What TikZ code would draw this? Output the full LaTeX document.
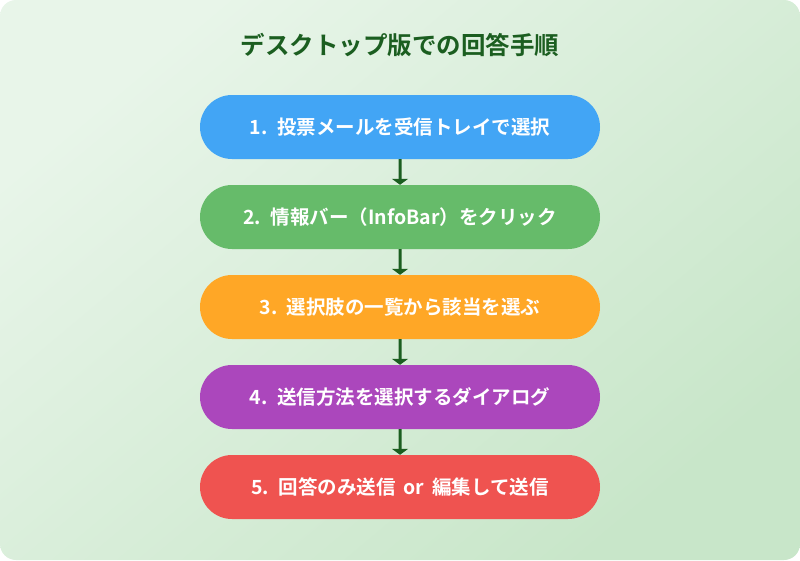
\documentclass[tikz,border=0pt]{standalone}
\usepackage{fontspec}
\setmainfont{Noto Sans CJK JP}
\newfontfamily\jpbold{Noto Sans CJK JP Bold}
\newfontfamily\jpboldw[WordSpace=1.8]{Noto Sans CJK JP Bold}
\usetikzlibrary{arrows.meta,shapes.misc}
\definecolor{bgA}{HTML}{E8F5E9}
\definecolor{bgB}{HTML}{C8E6C9}
\definecolor{titlec}{HTML}{1B5E20}
\definecolor{arrowc}{HTML}{1B5E20}
\definecolor{c1}{HTML}{42A5F5}
\definecolor{c2}{HTML}{66BB6A}
\definecolor{c3}{HTML}{FFA726}
\definecolor{c4}{HTML}{AB47BC}
\definecolor{c5}{HTML}{EF5350}
\tikzset{
  stepbox/.style={rounded rectangle, minimum width=400pt, minimum height=64pt,
    inner sep=0pt, text=white, font=\jpboldw\fontsize{19.5}{23}\selectfont},
  flow/.style={draw=arrowc, line width=3pt, -{Triangle[width=16pt,length=6pt]}},
}
\begin{document}
\begin{tikzpicture}[x=1pt,y=-1pt]
\useasboundingbox (0,0) rectangle (800,560);
\shade[top color=bgA, bottom color=bgB, shading angle=40, rounded corners=16pt] (0,0) rectangle (800,560);
\node[text=titlec, font=\jpbold\fontsize{24.5}{28}\selectfont] (title) at (400,45) {デスクトップ版での回答手順};
\node[stepbox, fill=c1] (s1) at (400,127) {1. 投票メールを受信トレイで選択};
\node[stepbox, fill=c2] (s2) at (400,217) {2. 情報バー（InfoBar）をクリック};
\node[stepbox, fill=c3] (s3) at (400,307) {3. 選択肢の一覧から該当を選ぶ};
\node[stepbox, fill=c4] (s4) at (400,397) {4. 送信方法を選択するダイアログ};
\node[stepbox, fill=c5] (s5) at (400,487) {5. 回答のみ送信 or 編集して送信};
\draw[flow] (s1) -- (s2);
\draw[flow] (s2) -- (s3);
\draw[flow] (s3) -- (s4);
\draw[flow] (s4) -- (s5);
\end{tikzpicture}
\end{document}
